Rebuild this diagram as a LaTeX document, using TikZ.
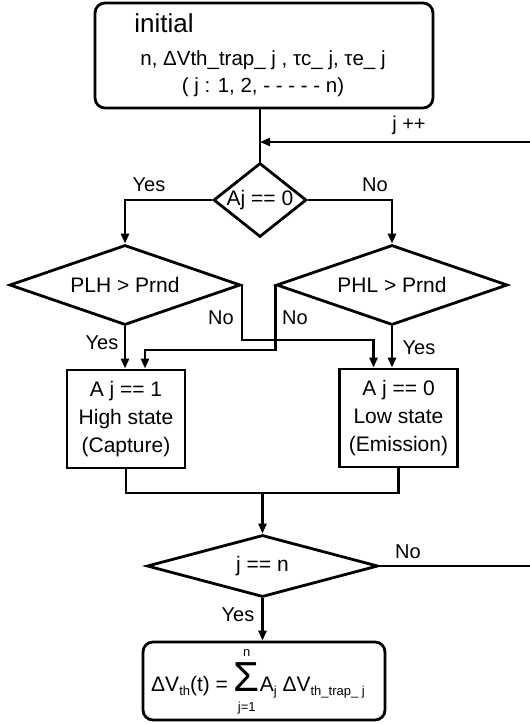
\documentclass[tikz,border=0pt]{standalone}
\usepackage{fontspec}
\setmainfont{Liberation Sans}
\usepackage{tikz}
\usetikzlibrary{shapes.geometric, arrows.meta, positioning, calc}
\newcommand\lowtxt[1]{\raisebox{-4pt}{\fontsize{13}{13}\selectfont #1}}

\begin{document}
\begin{tikzpicture}[x=1pt, y=-1pt, line width=2.8pt,
    txt/.style={font=\fontsize{21}{28}\selectfont, inner sep=0pt},
    lbl/.style={font=\fontsize{20}{23}\selectfont, inner sep=0pt},
    decision/.style={diamond, draw, txt},
    statebox/.style={rectangle, draw, txt, align=center, minimum width=118pt, minimum height=98pt},
    roundbox/.style={rectangle, rounded corners=10pt, draw},
    arr/.style={-{Triangle[length=10pt, width=8pt]}}]
  \useasboundingbox (0,0) rectangle (530,724);
  % start block
  \node[roundbox, minimum width=338pt, minimum height=105pt] (init) at (264,55.5) {};
  \node[anchor=west, inner sep=0pt, font=\fontsize{26}{30}\selectfont] (inittitle) at (133,23) {initial};
  \node[txt, align=center, font=\fontsize{20.5}{27}\selectfont] (initpar) at (263,74)
    {n, ΔVth\_trap\_ j , τc\_ j, τe\_ j\\( j : 1, 2, - - - - - n)};
  % decisions
  \node[decision, aspect=1.26, minimum width=93pt, minimum height=74pt] (trapchk) at (260,200) {Aj == 0};
  \node[decision, aspect=2.9, minimum width=231pt, minimum height=80pt] (capchk) at (125,285) {PLH > Prnd};
  \node[decision, aspect=2.9, minimum width=231pt, minimum height=80pt] (emichk) at (392,285) {PHL > Prnd};
  % states
  \node[statebox] (high) at (126,419) {A j == 1\\High state\\(Capture)};
  \node[statebox] (low) at (398.5,418) {A j == 0\\Low state\\(Emission)};
  % loop end
  \node[decision, aspect=3.7, minimum width=231pt, minimum height=62pt] (lastchk) at (262.5,566) {j == n};
  \node[roundbox, minimum width=242pt, minimum height=78pt] (result) at (264,681) {};
  \node[txt] (formula) at (258,682)
    {ΔV\lowtxt{th}(t) = $\mathop{\mbox{\fontsize{42}{42}\selectfont Σ}}\limits_{\mbox{\rule{0pt}{19pt}\fontsize{13}{13}\selectfont j=1}}^{\mbox{\rule[-5pt]{0pt}{5pt}\fontsize{13}{13}\selectfont n}}$A\lowtxt{j} ΔV\lowtxt{th\_trap\_ j}};

  % connectors
  \coordinate (loopin) at (530,142);
  \coordinate (loopout) at (530,566);
  \coordinate (merge) at (262.5,493);
  \draw (init.south -| trapchk.north) -- (trapchk.north);
  \draw[arr] (loopin) -- (loopin -| trapchk.north);
  \draw (lastchk.east) -- (loopout);
  \draw[arr] (trapchk.west) -| (capchk.north);
  \draw[arr] (trapchk.east) -| (emichk.north);
  \draw[arr] (capchk.south) -- (capchk.south |- high.north);
  \draw[arr] (emichk.south) -- (emichk.south |- low.north);
  \draw[arr] (capchk.east) -- ++(0,55) -| ([xshift=-25pt]low.north);
  \draw[arr] (emichk.west) -- ++(0,65) -| ([xshift=19pt]high.north);
  \draw (high.south) |- (merge) -| (low.south);
  \draw[arr] (merge) -- (lastchk.north);
  \draw[arr] (lastchk.south) -- (lastchk.south |- result.north);

  % labels
  \node[lbl] (jinc) at (409,125) {j ++};
  \node[lbl] (yesa) at (149,185) {Yes};
  \node[lbl] (noa) at (375,185) {No};
  \node[lbl] (yesb) at (102,343) {Yes};
  \node[lbl] (nob) at (221,318) {No};
  \node[lbl] (noc) at (295,318) {No};
  \node[lbl] (yesc) at (419,348) {Yes};
  \node[lbl] (nod) at (408,552) {No};
  \node[lbl] (yesd) at (238,615) {Yes};
\end{tikzpicture}
\end{document}
